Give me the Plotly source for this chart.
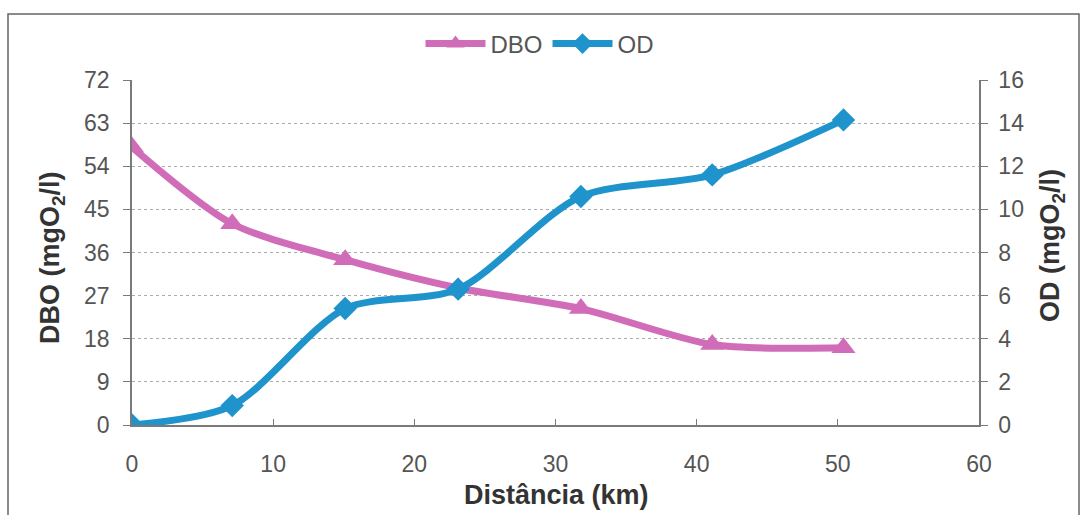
import plotly.graph_objects as go

# River profile: BOD (DBO) and dissolved oxygen (OD) along the distance
distancia_km = [0, 7.1, 15.1, 23.1, 31.8, 41.1, 50.4]
dbo = [58.0, 42.0, 34.5, 28.6, 24.3, 16.8, 16.1]
od = [0.0, 0.9, 5.4, 6.3, 10.6, 11.6, 14.15]

left_ticks = [0, 9, 18, 27, 36, 45, 54, 63, 72]
right_ticks = [0, 2, 4, 6, 8, 10, 12, 14, 16]
x_ticks = [0, 10, 20, 30, 40, 50, 60]

pink = "#D16DB8"
blue = "#1F93CC"
axis_gray = "#7a7a7a"
text_gray = "#555555"
font_family = "Liberation Sans, Arial, sans-serif"

fig = go.Figure()
fig.add_trace(go.Scatter(
    x=distancia_km, y=dbo, name="DBO", mode="lines+markers",
    line=dict(color=pink, width=7, shape="spline", smoothing=0.8),
    marker=dict(symbol="triangle-up", size=21, color=pink),
    yaxis="y",
))
fig.add_trace(go.Scatter(
    x=distancia_km, y=od, name="OD", mode="lines+markers",
    line=dict(color=blue, width=7, shape="spline", smoothing=0.8),
    marker=dict(symbol="diamond", size=18, color=blue),
    yaxis="y2",
))

W, H = 1084, 515
ml, mr, mt, mb = 132, 105, 80, 90
pw, ph = W - ml - mr, H - mt - mb


def px_x(px):
    return (px - ml) / pw


def px_y(py):
    return (H - mb - py) / ph


tick_font = dict(size=23, color=text_gray)

fig.update_layout(
    width=W, height=H,
    margin=dict(l=ml, r=mr, t=mt, b=mb),
    paper_bgcolor="white", plot_bgcolor="white",
    font=dict(family=font_family, size=22, color=text_gray),
    showlegend=True,
    legend=dict(
        orientation="h", x=px_x(540), y=px_y(44),
        xanchor="center", yanchor="middle",
        font=dict(size=24, color=text_gray),
        itemwidth=60, bgcolor="rgba(0,0,0,0)",
    ),
    xaxis=dict(
        range=[0, 60], tickvals=x_ticks, ticktext=[str(v) for v in x_ticks],
        showline=True, linecolor=axis_gray, linewidth=1.5,
        ticks="inside", ticklen=6, tickcolor=axis_gray,
        showgrid=False, zeroline=False, ticklabelstandoff=18,
        tickfont=tick_font,
    ),
    yaxis=dict(
        range=[0, 72], tickvals=left_ticks, ticktext=[str(v) for v in left_ticks],
        showline=True, linecolor=axis_gray, linewidth=1.5,
        ticks="outside", ticklen=7, tickcolor=axis_gray,
        showgrid=True, gridcolor="#ababab", griddash="dot", gridwidth=1,
        zeroline=False, ticklabelstandoff=9,
        tickfont=tick_font,
    ),
    yaxis2=dict(
        range=[0, 16], tickvals=right_ticks, ticktext=[str(v) for v in right_ticks],
        overlaying="y", side="right",
        showline=True, linecolor=axis_gray, linewidth=1.5,
        ticks="outside", ticklen=7, tickcolor=axis_gray,
        showgrid=False, zeroline=False, ticklabelstandoff=6,
        tickfont=tick_font,
    ),
)

title_font = dict(family=font_family, size=27, color="#333333")
fig.add_annotation(
    text="<b>DBO (mgO<sub>2</sub>/l)</b>", textangle=-90,
    xref="paper", yref="paper", x=px_x(52), y=px_y(258),
    xanchor="center", yanchor="middle", showarrow=False, font=title_font,
)
fig.add_annotation(
    text="<b>OD (mgO<sub>2</sub>/l)</b>", textangle=-90,
    xref="paper", yref="paper", x=px_x(1052), y=px_y(246),
    xanchor="center", yanchor="middle", showarrow=False, font=title_font,
)
fig.add_annotation(
    text="<b>Distância (km)</b>",
    xref="paper", yref="paper", x=px_x(556), y=px_y(495),
    xanchor="center", yanchor="middle", showarrow=False, font=title_font,
)

# Outer chart frame
fig.add_shape(
    type="rect", xref="paper", yref="paper",
    x0=px_x(8), x1=px_x(1079), y0=px_y(530), y1=px_y(14),
    line=dict(color="#666666", width=1.5), fillcolor="rgba(0,0,0,0)",
    layer="below",
)

fig.write_html("out.html")
